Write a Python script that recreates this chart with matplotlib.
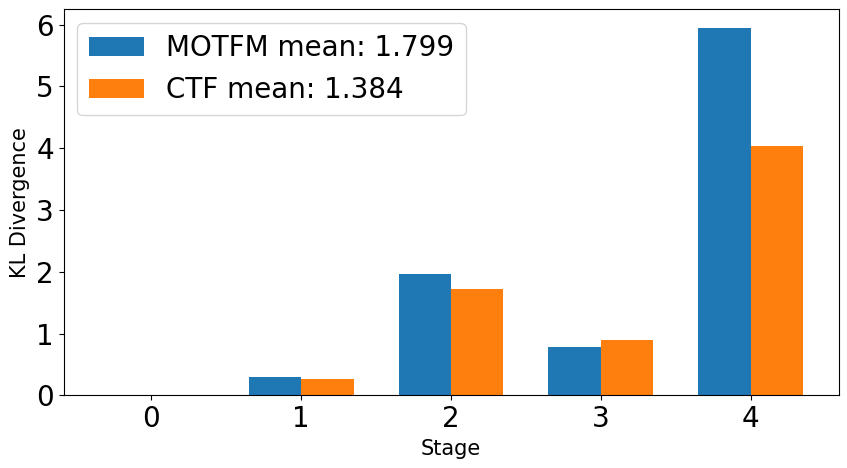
import numpy as np
import matplotlib.pyplot as plt

# Data
stages = [0, 1, 2, 3, 4]
motfm = [0.0, 0.30, 1.96, 0.79, 5.95]
ctf = [0.0, 0.27, 1.72, 0.89, 4.04]
motfm_mean = 1.799
ctf_mean = 1.384

x = np.arange(len(stages))
width = 0.35

fig, ax = plt.subplots(figsize=(8.47, 4.68), dpi=100)
ax.bar(x - width / 2, motfm, width, label=f'MOTFM mean: {motfm_mean:.3f}')
ax.bar(x + width / 2, ctf, width, label=f'CTF mean: {ctf_mean:.3f}')
ax.set_xticks(x)
ax.set_xticklabels([str(s) for s in stages])
ax.set_yticks(range(0, 7))
ax.tick_params(axis='both', labelsize=20)
ax.set_xlabel('Stage', fontsize=15)
ax.set_ylabel('KL Divergence', fontsize=15)
ax.legend(fontsize=20, loc='upper left')
plt.subplots_adjust(left=0.075, right=0.99, top=0.98, bottom=0.155)
plt.savefig('out.png')
